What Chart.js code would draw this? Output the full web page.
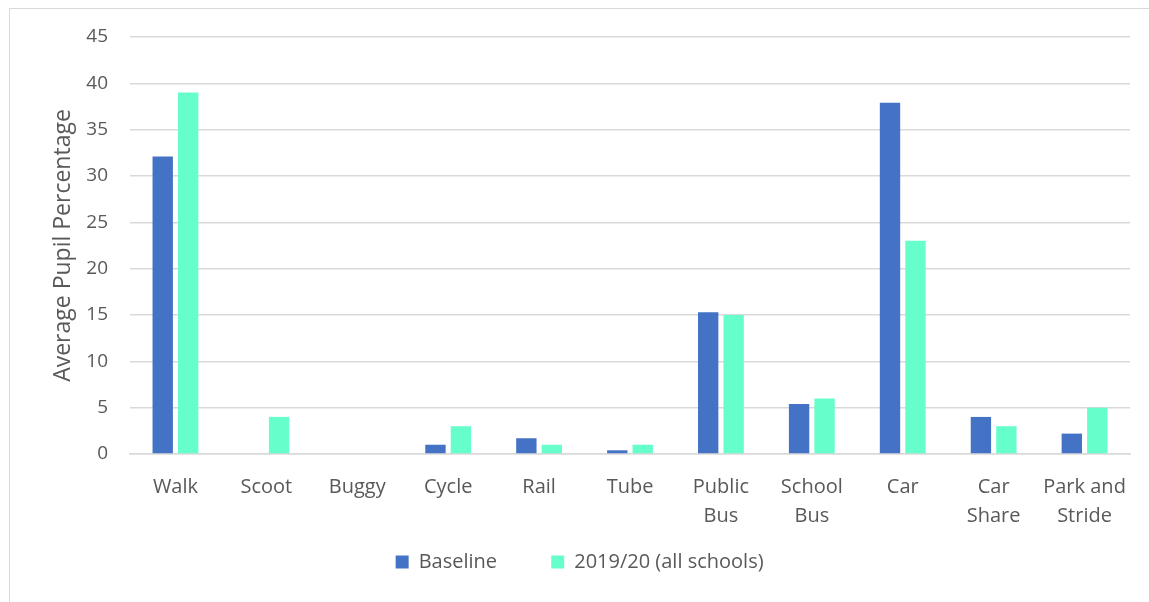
<!DOCTYPE html>
<html>
<head>
<meta charset="utf-8">
<script src="https://cdn.jsdelivr.net/npm/chart.js@4/dist/chart.umd.min.js"></script>
<style>
  html, body { margin: 0; padding: 0; background: #fff; }
  #wrap { position: absolute; left: 0; top: 0; width: 1149px; height: 602px; }
  #frame { position: absolute; left: 9px; top: 8px; width: 1160px; height: 620px; border: 1px solid #d9d9d9; box-sizing: border-box; }
  canvas { position: absolute; left: 0; top: 0; }
</style>
</head>
<body>
<div id="wrap">
  <div id="frame"></div>
  <canvas id="c" width="1149" height="602"></canvas>
</div>
<script>
const categories = ["Walk", "Scoot", "Buggy", "Cycle", "Rail", "Tube", ["Public", "Bus"], ["School", "Bus"], "Car", ["Car", "Share"], ["Park and", "Stride"]];
const baseline = [32.1, 0, 0, 1.0, 1.7, 0.4, 15.3, 5.4, 37.9, 4.0, 2.2];
const allSchools = [39.0, 4.0, 0, 3.0, 1.0, 1.0, 15.0, 6.0, 23.0, 3.0, 5.0];
const seriesNames = ["Baseline", "2019/20 (all schools)"];
const yTicks = [0, 5, 10, 15, 20, 25, 30, 35, 40, 45];

const FONT = "'Open Sans', 'Liberation Sans', sans-serif";
const TXT = "#595959";

new Chart(document.getElementById("c"), {
  type: "bar",
  data: {
    labels: categories,
    datasets: [
      { label: seriesNames[0], data: baseline, backgroundColor: "#4472c4", borderWidth: 0 },
      { label: seriesNames[1], data: allSchools, backgroundColor: "#66ffcc", borderWidth: 0 }
    ]
  },
  options: {
    responsive: false,
    animation: false,
    devicePixelRatio: 1,
    layout: { padding: { left: 50, top: 37, right: 19, bottom: 20 } },
    datasets: { bar: { categoryPercentage: 0.56, barPercentage: 0.8 } },
    plugins: {
      legend: {
        position: "bottom",
        labels: {
          color: TXT,
          font: { family: FONT, size: 20 },
          boxWidth: 13, boxHeight: 13,
          padding: 23,
          generateLabels: (chart) => {
            const items = Chart.defaults.plugins.legend.labels.generateLabels(chart);
            items.forEach((it, i) => {
              it.lineWidth = 0;
              it.text = it.text + (i < items.length - 1 ? "      " : "    ");
            });
            return items;
          }
        }
      },
      tooltip: { enabled: false }
    },
    scales: {
      x: {
        grid: { display: false, drawTicks: false },
        border: { display: true, color: "#d9d9d9", width: 1.5 },
        ticks: { color: TXT, font: { family: FONT, size: 20, lineHeight: 1.45 }, padding: 19, maxRotation: 0, autoSkip: false },
        afterFit: (s) => { s.height = 75; }
      },
      y: {
        min: 0, max: 45,
        afterBuildTicks: (s) => { s.ticks = yTicks.map(v => ({ value: v })); },
        grid: { color: "#d9d9d9", lineWidth: 1.5, drawTicks: false },
        border: { display: false },
        ticks: { color: TXT, font: { family: FONT, size: 19 }, padding: 22 },
        title: { display: true, text: "Average Pupil Percentage", color: TXT, font: { family: FONT, size: 23 }, padding: 0 },
        afterFit: (s) => { s.width = 80; }
      }
    }
  }
});
</script>
</body>
</html>
